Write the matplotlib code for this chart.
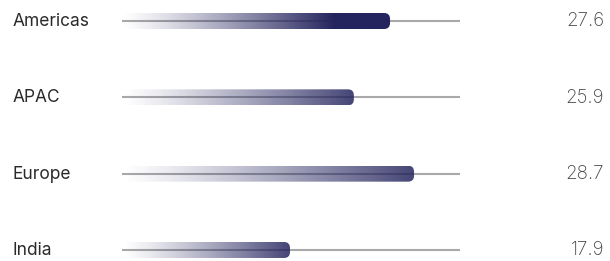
"""Regional gradient bar chart with track lines."""

import numpy as np
import matplotlib.pyplot as plt
from matplotlib.colors import to_rgb
from matplotlib.patches import FancyBboxPatch

regions = ["Americas", "APAC", "Europe", "India"]
scores = [27.6, 25.9, 28.7, 17.9]
# bar length on the 0-100 track
bar_ends = [79.3, 68.6, 86.4, 49.7]
highlight = "Americas"

TRACK_MAX = 100
BAR_COLOR = "#24245e"
TRACK_COLOR = "#a9a9ab"

W, H = 610, 261
plt.rcParams["font.family"] = ["Inter", "DejaVu Sans"]

fig = plt.figure(figsize=(W / 100, H / 100), dpi=100)
# track spans pixels 122..460, rows at 21 + 76.33 * i from the top
ax = fig.add_axes([122 / W, 0, 338 / W, 1])
ax.set_xlim(0, TRACK_MAX)
row_px = 76.33
ax.set_ylim((H - 21) / row_px, -21 / row_px)
ax.axis("off")

half_h = 8 / row_px
x_per_px = TRACK_MAX / 338
aspect = (1 / row_px) / x_per_px
rgb = np.array(to_rgb(BAR_COLOR))

for i, (name, score, end) in enumerate(zip(regions, scores, bar_ends)):
    ax.plot([0, TRACK_MAX], [i, i], color=TRACK_COLOR, lw=1.5,
            solid_capstyle="butt", zorder=1)

    n = 400
    ramp = np.linspace(0, 1, n)
    if name == highlight:
        alpha = np.clip(ramp / 0.79, 0, 1) ** 1.2
    else:
        alpha = ramp ** 1.2 * 0.85
    img = np.zeros((1, n, 4))
    img[..., :3] = rgb
    img[..., 3] = alpha
    im = ax.imshow(img, extent=[0, end, i + half_h, i - half_h],
                   aspect="auto", interpolation="bilinear", zorder=2)
    clip = FancyBboxPatch((0, i - half_h), end, 2 * half_h,
                          boxstyle=f"round,pad=0,rounding_size={6 * x_per_px}",
                          mutation_aspect=aspect, transform=ax.transData,
                          facecolor="none", edgecolor="none")
    ax.add_patch(clip)
    im.set_clip_path(clip)

    y_fig = 1 - (21.5 + row_px * i) / H
    fig.text(13 / W, y_fig, name, ha="left", va="center",
             fontsize=12.5, color="#2a2a2a")
    fig.text(604 / W, y_fig, f"{score}", ha="right", va="center",
             fontsize=13.5, color="#444444", fontweight="light")

fig.savefig("out.png", dpi=100)
